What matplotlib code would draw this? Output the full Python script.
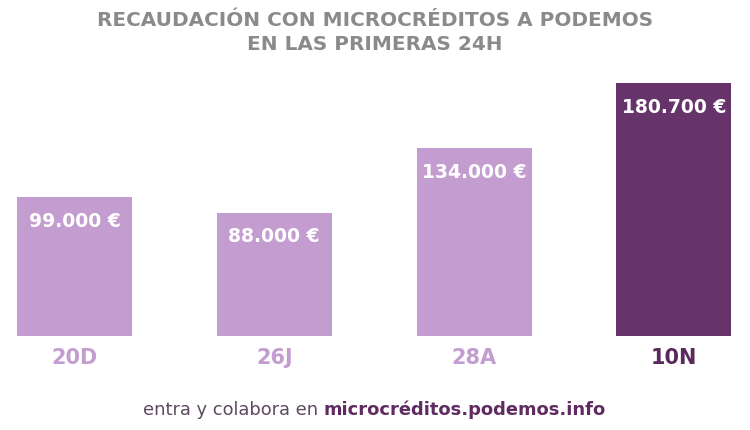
import matplotlib.pyplot as plt

# Data
categories = ['20D', '26J', '28A', '10N']
values = [99000, 88000, 134000, 180700]
value_labels = ['99.000 €', '88.000 €', '134.000 €', '180.700 €']

light = '#c39dcf'
dark = '#66336a'
bar_colors = [light, light, light, dark]
label_colors = ['#c39dcf', '#c39dcf', '#c39dcf', '#5a2a5c']

plt.rcParams['font.family'] = ['DejaVu Sans']

fig = plt.figure(figsize=(7.5, 4.3), dpi=100)
fig.patch.set_facecolor('white')

# axes spans the whole width, baseline at y=336px
ax = fig.add_axes([0, (430 - 336) / 430, 1, (336 - 70) / 430])
x = list(range(len(categories)))
ax.bar(x, values, width=0.576, color=bar_colors)
ax.set_xlim(-74.5 / 199.8, (750 - 74.5) / 199.8)
ax.set_ylim(0, 190000)
ax.axis('off')

for i, v in enumerate(values):
    ax.annotate(value_labels[i], (i, v), xytext=(0, -24), textcoords='offset pixels',
                ha='center', va='center', color='white', fontsize=13.5, fontweight='bold')
    ax.annotate(categories[i], (i, 0), xytext=(0, -22), textcoords='offset pixels',
                ha='center', va='center', color=label_colors[i], fontsize=15, fontweight='bold')

fig.text(0.5, 1 - 20 / 430, 'RECAUDACIÓN CON MICROCRÉDITOS A PODEMOS', ha='center', va='center',
         color='#8a8a8a', fontsize=14.4, fontweight='bold')
fig.text(0.5, 1 - 45 / 430, 'EN LAS PRIMERAS 24H', ha='center', va='center',
         color='#8a8a8a', fontsize=14.4, fontweight='bold')

t1 = fig.text(143 / 750, 1 - 410 / 430, 'entra y colabora en ', ha='left', va='center',
              color='#5e4a60', fontsize=12.9)
ax.annotate('microcréditos.podemos.info', xy=(1, 0.5), xycoords=t1, ha='left', va='center',
            color='#5f2b60', fontsize=12.9, fontweight='bold')

fig.savefig('out.png', dpi=100)
